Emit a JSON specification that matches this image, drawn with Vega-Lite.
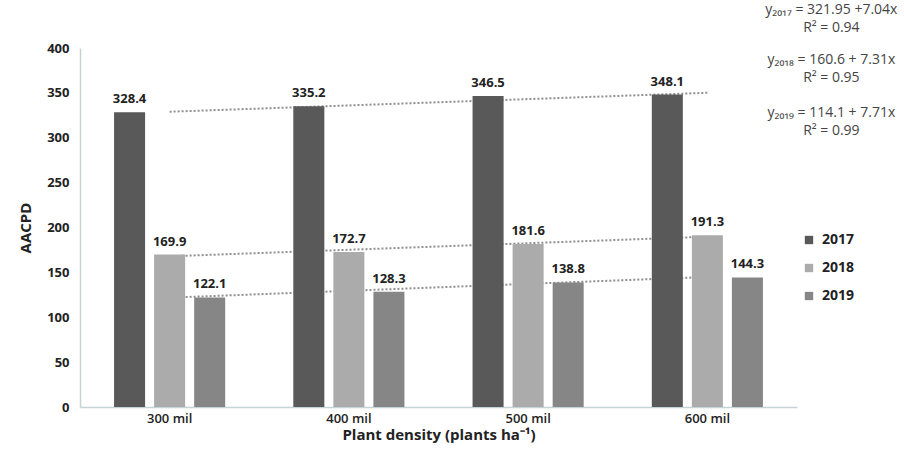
{
  "$schema": "https://vega.github.io/schema/vega-lite/v6.json",
  "autosize": "none",
  "width": 717,
  "height": 359,
  "padding": {"left": 80, "top": 48, "right": 107, "bottom": 49},
  "background": "white",
  "config": {
    "font": "Open Sans",
    "view": {"stroke": null}
  },
  "datasets": {
    "bars": [
      {"density": "300 mil", "year": "2017", "value": 328.4},
      {"density": "300 mil", "year": "2018", "value": 169.9},
      {"density": "300 mil", "year": "2019", "value": 122.1},
      {"density": "400 mil", "year": "2017", "value": 335.2},
      {"density": "400 mil", "year": "2018", "value": 172.7},
      {"density": "400 mil", "year": "2019", "value": 128.3},
      {"density": "500 mil", "year": "2017", "value": 346.5},
      {"density": "500 mil", "year": "2018", "value": 181.6},
      {"density": "500 mil", "year": "2019", "value": 138.8},
      {"density": "600 mil", "year": "2017", "value": 348.1},
      {"density": "600 mil", "year": "2018", "value": 191.3},
      {"density": "600 mil", "year": "2019", "value": 144.3}
    ],
    "trend": [
      {"density": "300 mil", "year": "2017", "fit": 329.0},
      {"density": "600 mil", "year": "2017", "fit": 350.1},
      {"density": "300 mil", "year": "2018", "fit": 167.9},
      {"density": "600 mil", "year": "2018", "fit": 189.8},
      {"density": "300 mil", "year": "2019", "fit": 121.8},
      {"density": "600 mil", "year": "2019", "fit": 144.9}
    ],
    "equations": [
      {"density": "600 mil", "eqy": 450, "eq": "y₂₀₁₇ = 321.95 +7.04x\nR² = 0.94"},
      {"density": "600 mil", "eqy": 394, "eq": "y₂₀₁₈ = 160.6 + 7.31x\nR² = 0.95"},
      {"density": "600 mil", "eqy": 335, "eq": "y₂₀₁₉ = 114.1 + 7.71x\nR² = 0.99"}
    ]
  },
  "encoding": {
    "x": {
      "field": "density",
      "type": "nominal",
      "sort": ["300 mil", "400 mil", "500 mil", "600 mil"],
      "scale": {"domain": ["300 mil", "400 mil", "500 mil", "600 mil"], "paddingInner": 0.38, "paddingOuter": 0.19},
      "axis": {
        "title": "Plant density (plants ha⁻¹)",
        "labelAngle": 0,
        "labelFontSize": 13,
        "labelFontWeight": 600,
        "labelColor": "#222222",
        "labelPadding": 5,
        "ticks": false,
        "domainColor": "#c6d3d6",
        "domainWidth": 1.5,
        "titleFontSize": 15,
        "titleFontWeight": "bold",
        "titleColor": "#222222",
        "titlePadding": 2
      }
    }
  },
  "layer": [
    {
      "data": {"name": "trend"},
      "mark": {"type": "line", "color": "#8f8f8f", "strokeWidth": 2, "strokeDash": [2, 2]},
      "encoding": {
        "y": {"field": "fit", "type": "quantitative"},
        "detail": {"field": "year", "type": "nominal"}
      }
    },
    {
      "data": {"name": "bars"},
      "mark": {"type": "bar"},
      "encoding": {
        "xOffset": {"field": "year", "type": "nominal", "scale": {"paddingInner": 0.225, "paddingOuter": 0}},
        "y": {
          "field": "value",
          "type": "quantitative",
          "scale": {"domain": [0, 400], "nice": false},
          "axis": {
            "title": "AACPD",
            "values": [0, 50, 100, 150, 200, 250, 300, 350, 400],
            "grid": false,
            "ticks": false,
            "labelFontSize": 13,
            "labelFontWeight": "bold",
            "labelColor": "#222222",
            "labelPadding": 11,
            "domainColor": "#c6d3d6",
            "domainWidth": 1.5,
            "titleFontSize": 15,
            "titleFontWeight": "bold",
            "titleColor": "#222222",
            "titlePadding": 13
          }
        },
        "color": {
          "field": "year",
          "type": "nominal",
          "scale": {"domain": ["2017", "2018", "2019"], "range": ["#595959", "#ababab", "#868686"]},
          "legend": {
            "title": null,
            "orient": "none",
            "legendX": 722,
            "legendY": 185,
            "symbolType": "square",
            "symbolSize": 70,
            "symbolStrokeWidth": 0,
            "labelFontSize": 14,
            "labelFontWeight": "bold",
            "labelColor": "#222222",
            "labelOffset": 6,
            "rowPadding": 14
          }
        }
      }
    },
    {
      "data": {"name": "bars"},
      "mark": {"type": "text", "baseline": "bottom", "dy": -6, "fontSize": 13, "fontWeight": "bold", "color": "#222222"},
      "encoding": {
        "xOffset": {"field": "year", "type": "nominal", "scale": {"paddingInner": 0.225, "paddingOuter": 0}},
        "y": {"field": "value", "type": "quantitative"},
        "text": {"field": "value", "type": "quantitative", "format": ".1f"}
      }
    },
    {
      "data": {"name": "equations"},
      "mark": {"type": "text", "align": "center", "baseline": "top", "dx": 124, "fontSize": 14, "lineBreak": "\n", "lineHeight": 18, "color": "#444444"},
      "encoding": {
        "y": {"field": "eqy", "type": "quantitative"},
        "text": {"field": "eq", "type": "nominal"}
      }
    }
  ]
}
